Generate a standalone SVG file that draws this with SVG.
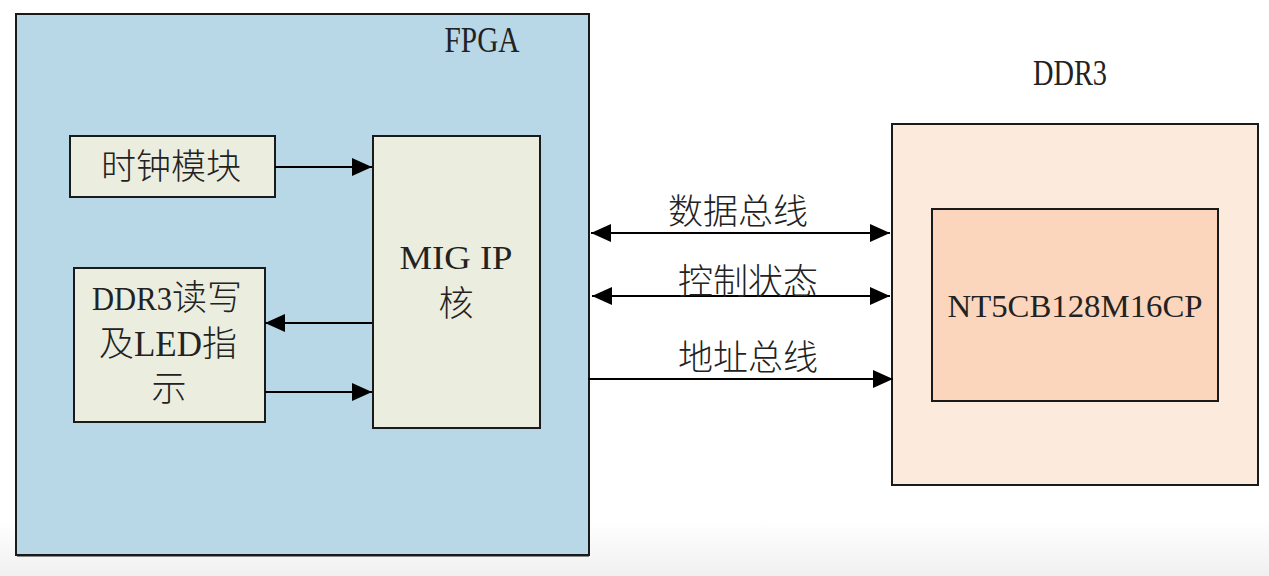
<svg xmlns="http://www.w3.org/2000/svg" width="1269" height="576" viewBox="0 0 1269 576">
<defs>
<linearGradient id="bg" x1="0" y1="0" x2="0" y2="1">
<stop offset="0" stop-color="#ffffff"/>
<stop offset="1" stop-color="#f0f0f0"/>
</linearGradient>
<marker id="ah" viewBox="0 0 20 18" refX="20" refY="9" markerWidth="20" markerHeight="18" markerUnits="userSpaceOnUse" orient="auto-start-reverse">
<path d="M0,0 L20,9 L0,18 Z" fill="#000"/>
</marker>
<style>
.box{stroke:#1a1a1a;stroke-width:2}
.cjk{font-family:"Noto Sans CJK SC",sans-serif;font-weight:300;font-size:35px;fill:#222}
.lat{font-family:"Liberation Serif",serif;fill:#222}
.line{stroke:#000;stroke-width:2;fill:none}
</style>
</defs>
<rect x="0" y="0" width="1269" height="576" fill="#fff"/>
<rect x="0" y="520" width="1269" height="56" fill="url(#bg)"/>

<g id="fpga">
<rect x="16" y="14" width="573" height="541" fill="#b8d8e8" class="box"/>
<line x1="17" y1="556.5" x2="589" y2="556.5" stroke="#888" stroke-width="1"/>
<text x="482" y="52" class="lat" font-size="35" text-anchor="middle" textLength="75" lengthAdjust="spacingAndGlyphs">FPGA</text>
</g>

<g id="clock">
<rect x="70" y="136" width="205" height="61" fill="#ebeddf" class="box"/>
<text x="171" y="179" class="cjk" text-anchor="middle" font-size="36">时钟模块</text>
</g>

<g id="mig">
<rect x="373" y="136" width="167" height="292" fill="#ebeddf" class="box"/>
<text x="456" y="269" class="lat" font-size="34" text-anchor="middle" textLength="113" lengthAdjust="spacingAndGlyphs">MIG IP</text>
<text x="456" y="316" class="cjk" text-anchor="middle">核</text>
</g>

<g id="ddr3rw">
<rect x="74" y="268" width="191" height="154" fill="#ebeddf" class="box"/>
<text x="167" y="310" class="cjk" text-anchor="middle" font-size="33"><tspan class="lat" font-size="33" textLength="80" lengthAdjust="spacingAndGlyphs">DDR3</tspan>读写</text>
<text x="168" y="356" class="cjk" text-anchor="middle" font-size="33">及<tspan font-family="Liberation Serif" font-weight="400">LED</tspan>指</text>
<text x="169" y="401" class="cjk" text-anchor="middle" font-size="33">示</text>
</g>

<g id="ddr3">
<text x="1070" y="85" class="lat" font-size="35" text-anchor="middle" textLength="74" lengthAdjust="spacingAndGlyphs">DDR3</text>
<rect x="892" y="124" width="366" height="361" fill="#fcebdc" class="box"/>
</g>

<g id="chip">
<rect x="932" y="209" width="286" height="192" fill="#fbd5bc" class="box"/>
<text x="1075" y="317" class="lat" font-size="32" text-anchor="middle" textLength="255" lengthAdjust="spacingAndGlyphs">NT5CB128M16CP</text>
</g>

<g id="connectors">
<line x1="275" y1="167" x2="372" y2="167" class="line" marker-end="url(#ah)"/>
<line x1="372" y1="323" x2="265" y2="323" class="line" marker-end="url(#ah)"/>
<line x1="265" y1="392" x2="372" y2="392" class="line" marker-end="url(#ah)"/>
<line x1="591" y1="233" x2="890" y2="233" class="line" marker-start="url(#ah)" marker-end="url(#ah)"/>
<line x1="592" y1="296" x2="890" y2="296" class="line" marker-start="url(#ah)" marker-end="url(#ah)"/>
<line x1="588" y1="379" x2="893" y2="379" class="line" marker-end="url(#ah)"/>
<text x="738" y="224" class="cjk" text-anchor="middle" font-size="36">数据总线</text>
<text x="748" y="294" class="cjk" text-anchor="middle" font-size="36">控制状态</text>
<text x="748" y="370" class="cjk" text-anchor="middle" font-size="36">地址总线</text>
</g>
</svg>
